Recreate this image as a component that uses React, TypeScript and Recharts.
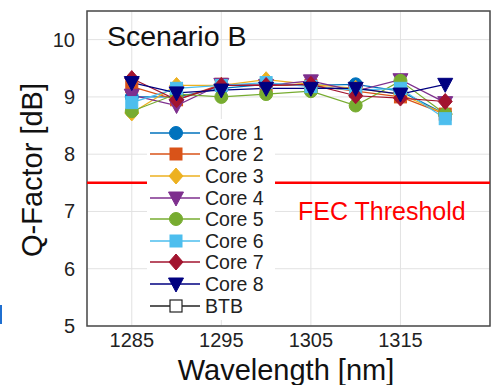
import React from 'react';
import {
  LineChart,
  Line,
  XAxis,
  YAxis,
  CartesianGrid,
  ReferenceLine,
  ReferenceArea,
} from 'recharts';

const wavelengths = [1285, 1290, 1295, 1300, 1305, 1310, 1315, 1320];

const core1 = [9.0, 9.0, 9.15, 9.22, 9.2, 9.22, 9.1, 8.7];
const core2 = [9.18, 8.95, 9.22, 9.2, 9.2, 9.1, 9.0, 8.7];
const core3 = [8.72, 9.2, 9.2, 9.3, 9.22, 9.15, 9.05, 8.7];
const core4 = [9.03, 8.85, 9.22, 9.2, 9.28, 9.1, 9.3, 8.9];
const core5 = [8.75, 9.05, 9.0, 9.05, 9.1, 8.85, 9.28, 8.7];
const core6 = [8.9, 9.15, 9.2, 9.25, 9.18, 9.12, 9.15, 8.62];
const core7 = [9.32, 8.95, 9.2, 9.2, 9.22, 9.02, 8.98, 8.92];
const core8 = [9.25, 9.07, 9.12, 9.15, 9.15, 9.15, 9.05, 9.22];

const xTicks = [1285, 1295, 1305, 1315];
const yTicks = [5, 6, 7, 8, 9, 10];
const fecThreshold = 7.5;

const FONT = '"Liberation Sans", Arial, sans-serif';

type Shape = 'circle' | 'square' | 'diamond' | 'triangle' | 'open-square';

const series: { key: string; name: string; values: number[]; color: string; shape: Shape }[] = [
  { key: 'c1', name: 'Core 1', values: core1, color: '#0072BD', shape: 'circle' },
  { key: 'c2', name: 'Core 2', values: core2, color: '#D95319', shape: 'square' },
  { key: 'c3', name: 'Core 3', values: core3, color: '#EDB120', shape: 'diamond' },
  { key: 'c4', name: 'Core 4', values: core4, color: '#7E2F8E', shape: 'triangle' },
  { key: 'c5', name: 'Core 5', values: core5, color: '#77AC30', shape: 'circle' },
  { key: 'c6', name: 'Core 6', values: core6, color: '#4DBEEE', shape: 'square' },
  { key: 'c7', name: 'Core 7', values: core7, color: '#A2142F', shape: 'diamond' },
  { key: 'c8', name: 'Core 8', values: core8, color: '#000080', shape: 'triangle' },
];

const legendItems = [
  ...series.map((s) => ({ name: s.name, color: s.color, shape: s.shape })),
  { name: 'BTB', color: '#222', shape: 'open-square' as Shape },
];

const data = wavelengths.map((w, i) => {
  const row: Record<string, number> = { wl: w };
  series.forEach((s) => {
    row[s.key] = s.values[i];
  });
  return row;
});

function Marker({ cx, cy, color, shape }: { cx: number; cy: number; color: string; shape: Shape }) {
  if (shape === 'circle') return <circle cx={cx} cy={cy} r={6.5} fill={color} stroke={color} />;
  if (shape === 'square')
    return <rect x={cx - 6} y={cy - 6} width={12} height={12} fill={color} stroke={color} />;
  if (shape === 'open-square')
    return <rect x={cx - 6} y={cy - 6} width={12} height={12} fill="#fff" stroke={color} strokeWidth={1.2} />;
  if (shape === 'diamond')
    return (
      <polygon
        points={`${cx},${cy - 8} ${cx + 7},${cy} ${cx},${cy + 8} ${cx - 7},${cy}`}
        fill={color}
        stroke={color}
      />
    );
  return (
    <polygon
      points={`${cx - 7.5},${cy - 6} ${cx + 7.5},${cy - 6} ${cx},${cy + 8}`}
      fill={color}
      stroke={color}
    />
  );
}

const makeDot = (color: string, shape: Shape) => (props: any) => {
  const { cx, cy, index } = props;
  if (cx == null || cy == null) return <g key={index} />;
  return (
    <g key={index}>
      <Marker cx={cx} cy={cy} color={color} shape={shape} />
    </g>
  );
};

const YTick = ({ x, y, payload }: any) => (
  <text x={x} y={y} dy="0.35em" textAnchor="end" fontSize={20} fill="#222" fontFamily={FONT}>
    {payload.value}
  </text>
);

const XTick = ({ x, y, payload }: any) => (
  <text x={x} y={y} dy="0.8em" textAnchor="middle" fontSize={20} fill="#222" fontFamily={FONT}>
    {payload.value}
  </text>
);

export default function App() {
  return (
    <div style={{ position: 'absolute', left: 0, top: 0, width: 498, height: 385, background: '#fff' }}>
      <LineChart width={498} height={385} data={data} margin={{ top: 11, right: 8, bottom: 0, left: 27 }}>
        <CartesianGrid stroke="#e2e2e2" strokeWidth={1} />
        <XAxis
          dataKey="wl"
          type="number"
          domain={[1280, 1325]}
          ticks={xTicks}
          height={59}
          tickSize={0}
          tickMargin={5}
          axisLine={false}
          tickLine={false}
          tick={<XTick />}
        />
        <YAxis
          type="number"
          domain={[5, 10.5]}
          ticks={yTicks}
          width={60}
          tickSize={0}
          tickMargin={12}
          axisLine={false}
          tickLine={false}
          tick={<YTick />}
        />
        <ReferenceLine y={fecThreshold} stroke="#ff0000" strokeWidth={2.5} />
        {series.map((s) => (
          <Line
            key={s.key}
            dataKey={s.key}
            name={s.name}
            stroke={s.color}
            strokeWidth={1.2}
            dot={makeDot(s.color, s.shape)}
            activeDot={false}
            isAnimationActive={false}
          />
        ))}
        <ReferenceArea x1={1280} x2={1325} y1={5} y2={10.5} fill="none" stroke="#4a4a4a" strokeWidth={1.5} />
      </LineChart>

      {/* legend box sits over the plot, hiding part of the threshold line */}
      <div
        style={{
          position: 'absolute',
          left: 147,
          top: 119,
          width: 128,
          height: 201,
          background: '#fff',
          paddingTop: 3,
          boxSizing: 'border-box',
        }}
      >
        {legendItems.map((item) => (
          <div key={item.name} style={{ display: 'flex', alignItems: 'center', height: 21.6 }}>
            <svg width={58} height={20} style={{ flex: 'none' }}>
              <line x1={3} y1={10} x2={53} y2={10} stroke={item.color} strokeWidth={1.5} />
              <Marker cx={29} cy={10} color={item.color} shape={item.shape} />
            </svg>
            <span style={{ fontFamily: FONT, fontSize: 19.5, color: '#222', lineHeight: '20px' }}>{item.name}</span>
          </div>
        ))}
      </div>

      <div style={{ position: 'absolute', left: 107, top: 20, fontFamily: FONT, fontSize: 28.5, color: '#111' }}>
        Scenario B
      </div>
      <div style={{ position: 'absolute', left: 298, top: 197, fontFamily: FONT, fontSize: 25, color: '#ff0000' }}>
        FEC Threshold
      </div>
      <div
        style={{
          position: 'absolute',
          left: 32,
          top: 170,
          transform: 'translate(-50%, -50%) rotate(-90deg)',
          fontFamily: FONT,
          fontSize: 29,
          color: '#111',
          whiteSpace: 'nowrap',
        }}
      >
        Q-Factor [dB]
      </div>
      <div
        style={{
          position: 'absolute',
          left: 286,
          top: 370,
          transform: 'translate(-50%, -50%)',
          fontFamily: FONT,
          fontSize: 29,
          color: '#111',
          whiteSpace: 'nowrap',
        }}
      >
        Wavelength [nm]
      </div>
      <div style={{ position: 'absolute', left: 0, top: 305, width: 2, height: 19, background: '#1f6fd0' }} />
    </div>
  );
}
